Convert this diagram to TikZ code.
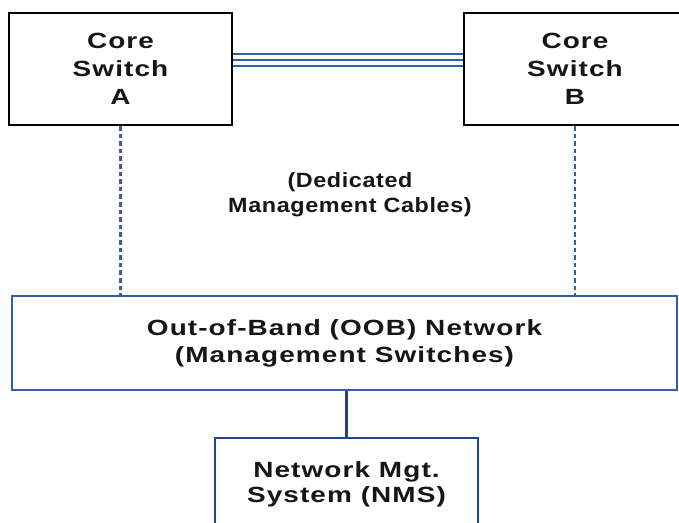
\documentclass[tikz,border=0pt]{standalone}
\usepackage{fontspec}
\setmainfont{Liberation Sans}[FakeStretch=1.27,LetterSpace=5]
\newfontfamily\cablefont{Liberation Sans}[FakeStretch=1.13,LetterSpace=3]
\usetikzlibrary{calc}
\definecolor{linkblue}{RGB}{50,96,166}
\definecolor{nmsblue}{RGB}{30,70,132}
\definecolor{inkgrey}{RGB}{22,22,22}

\begin{document}
\begin{tikzpicture}[x=0.75pt,y=-0.75pt,
	boxtext/.style={align=center,text=inkgrey,font=\bfseries\fontsize{16.5}{21}\selectfont},
	switchbox/.style={boxtext,draw=black,line width=1.5pt,minimum width=167pt,minimum height=84pt},
	oobbox/.style={boxtext,draw=linkblue,line width=1.4pt,minimum width=498.75pt,minimum height=70.5pt,font=\bfseries\fontsize{16.5}{20.2}\selectfont},
	nmsbox/.style={boxtext,draw=nmsblue,line width=1.5pt,minimum width=197.25pt,minimum height=69pt,font=\bfseries\fontsize{16.5}{18.8}\selectfont},
	trunk/.style={draw=linkblue,line width=1.1pt},
	mgmt/.style={draw=linkblue,line width=2pt,dash pattern=on 3.4pt off 2.3pt},
	uplink/.style={draw=nmsblue,line width=2.2pt}]
	\fill[white] (0,0) rectangle (679,523);
	\useasboundingbox (0,0) rectangle (679,523);

	\node[switchbox] (coreA) at (120.5,69) {Core\\Switch\\A};
	\node[switchbox] (coreB) at (575,69) {Core\\Switch\\B};
	\node[oobbox] (oob) at (344.5,343) {Out-of-Band (OOB) Network\\(Management Switches)};
	\node[nmsbox] (nms) at (346.5,484) {Network Mgt.\\System (NMS)};
	\node[align=center,text=inkgrey,font=\cablefont\bfseries\fontsize{15.5}{18.6}\selectfont] (cables) at (350,195) {(Dedicated\\Management Cables)};

	\foreach \dy in {-15,-9,-3}
		\draw[trunk] ($(coreA.east)+(0,\dy)$) -- ($(coreB.west)+(0,\dy)$);
	\draw[mgmt] (coreA.south) -- (coreA.south |- oob.north);
	\draw[mgmt] (coreB.south) -- (coreB.south |- oob.north);
	\draw[uplink] (nms.north |- oob.south) -- (nms.north);
\end{tikzpicture}
\end{document}
